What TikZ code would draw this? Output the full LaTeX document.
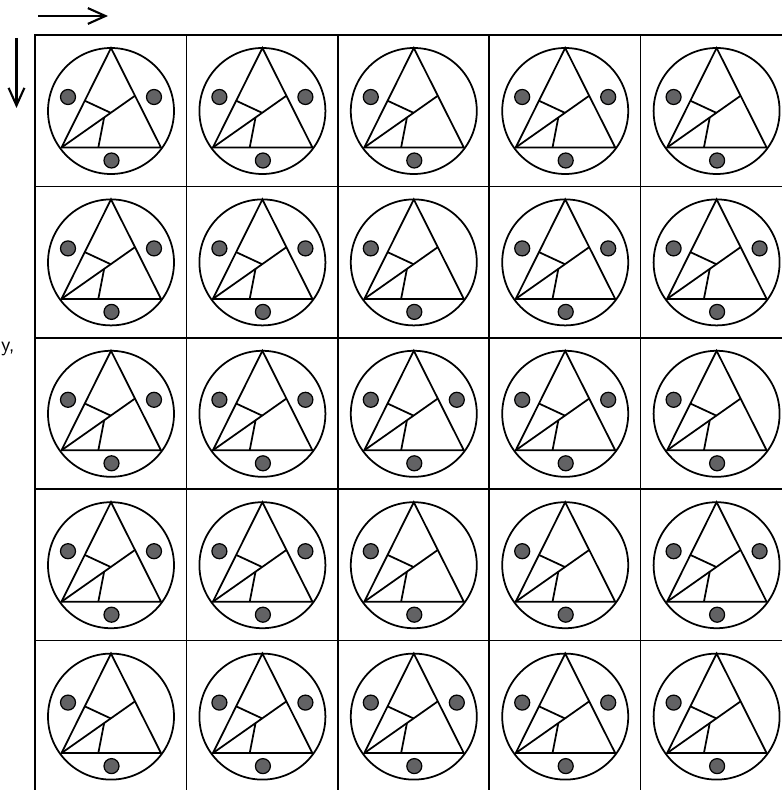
\documentclass[tikz,border=0pt]{standalone}
\usepackage{tikz}
\usetikzlibrary{arrows.meta,calc}
\definecolor{dotgray}{RGB}{98,98,100}

\tikzset{
  rule/.style={line width=1pt, black},
  spot/.style={draw=black, line width=0.7pt, fill=dotgray},
  pointer/.style={line width=1.2pt, -{Straight Barb[length=10pt, width=9pt, line width=1.2pt]}},
  emblem/.pic={
    % triangle corners on the ring
    \coordinate (-apex) at (0,-63);
    \coordinate (-baseL) at (-49.5,36.5);
    \coordinate (-baseR) at (50,36.5);
    \coordinate (-tip) at ($(-apex)!0.48!(-baseR)$);
    \coordinate (-sideL) at ($(-apex)!0.53!(-baseL)$);
    \coordinate (-midA) at ($(-baseL)!0.67!(-tip)$);
    \coordinate (-midB) at ($(-baseL)!0.58!(-tip)$);
    \coordinate (-foot) at ($(-baseL)!0.37!(-baseR)$);
    \coordinate (-rightspot) at (43,-14);
    \draw[rule] (0,0) circle (63);
    \draw[rule, line join=miter] (-apex) -- (-baseL) -- (-baseR) -- cycle;
    \draw[rule] (-baseL) -- (-tip);
    \draw[rule] (-sideL) -- (-midA);
    \draw[rule] (-foot) -- (-midB);
    % dots
    \draw[spot] (-43,-14) circle (7.5);
    \draw[spot] (0.5,49.5) circle (7.5);
  }
}

\begin{document}
\begin{tikzpicture}[x=0.02cm, y=-0.02cm]
    \useasboundingbox (0,0) rectangle (782,790);
    \clip (0,0) rectangle (782,790);

    % Direction arrows
    \coordinate (rowS) at (38,16);
    \coordinate (rowE) at (108,16);
    \coordinate (colS) at (16.5,38);
    \coordinate (colE) at (16.5,108);
    \draw[pointer] (rowS) -- (rowE);
    \draw[pointer] (colS) -- (colE);

    % Word at the margin
    \node[anchor=base east, font=\sffamily\large, inner sep=0pt] (cutword) at (15,351) {y,};

    % Grid
    \draw[rule] (35,790) -- (35,35) -- (782,35);
    \foreach \k in {1,...,4} {
        \draw[rule] ({35+151.4*\k},35) -- ({35+151.4*\k},790);
        \draw[rule] (35,{35+151.4*\k}) -- (782,{35+151.4*\k});
    }

    % Emblems
    \foreach \row in {1,...,5} {
        \foreach \col in {1,...,5} {
            \pic (e\col\row) at ({111+151.4*(\col-1)},{111+151.4*(\row-1)}) {emblem};
        }
    }

    % Right-hand dots
    \foreach \row/\rights in {1/{1,2,4}, 2/{1,2,4,5}, 3/{1,2,3,4}, 4/{1,2,5}, 5/{2,3,4}} {
        \foreach \col in \rights {
            \draw[spot] (e\col\row-rightspot) circle (7.5);
        }
    }
\end{tikzpicture}
\end{document}
